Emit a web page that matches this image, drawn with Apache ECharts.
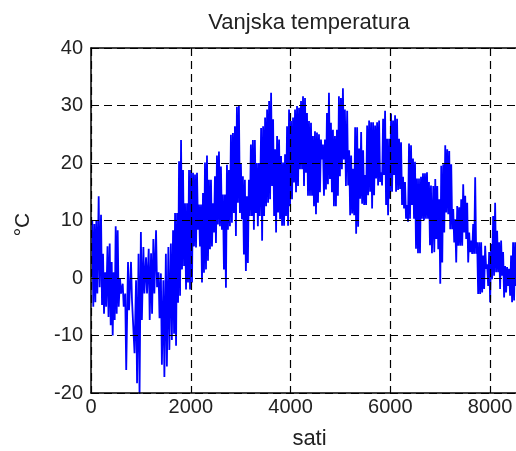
<!DOCTYPE html>
<html><head><meta charset="utf-8">
<script src="https://cdn.jsdelivr.net/npm/echarts@6/dist/echarts.min.js"></script>
<style>html,body{margin:0;padding:0;background:#fff}#c{width:516px;height:451px}</style>
</head><body><div id="c"></div>
<script>
const chartTitle = 'Vanjska temperatura';
const xName = 'sati';
const yName = '°C';
const xTicks = [0, 2000, 4000, 6000, 8000];
const yTicks = [-20, -10, 0, 10, 20, 30, 40];

// hour of year (sample position) with the upper and lower envelope
const hours = [26,67,107,154,201,241,284,331,375,415,455,495,535,582,636,686,742,802,853,903,953,1000,1050,1103,1157,1204,1250,1304,1354,1401,1451,1501,1551,1601,1645,
1685,1725,1765,1805,1845,1885,1925,1965,2005,2045,2085,2125,2165,2205,2245,2285,2325,2365,2405,2445,2485,2525,2565,2605,2645,2685,2725,2765,2805,2845,2885,2925,2965,3005,3045,3085,3125,3165,3205,3245,3285,3325,3365,
3410,3450,3490,3530,3570,3610,3650,3690,3730,3770,3810,3850,3890,3930,3970,4010,4050,4090,4130,4170,4210,4250,4290,4330,4370,4410,4450,4490,4530,4570,4610,4650,4690,4730,4770,4810,4850,4890,4930,4970,5010,5050,5090,
5135,5175,5215,5255,5295,5335,5375,5415,5455,5495,5535,5575,5615,5655,5695,5735,5775,5815,5855,5895,5935,5975,6015,6055,6095,6135,6175,6215,6255,6295,6335,6375,6415,6455,6495,6535,6575,6615,6655,6695,6735,6775,6815,
6861,6901,6941,6981,7021,7061,7101,7141,7181,7221,7261,7301,7341,7381,7421,7461,7501,7541,7581,7621,7661,7701,7741,7781,7821,7861,7901,7941,7981,8021,8061,8101,8141,8181,8221,8261,8301,8341,8381,8421,8461,8501,8560];

const tempHigh = [10,9.4,10,14.2,11,4.2,1,5.5,6,2.8,1,9,8.3,-0.1,-1,-2.7,2.8,2.8,-3.6,-0.4,4.2,8,5.4,3.6,5.1,4.3,6.8,8.3,1,0.8,-0.4,4.2,5.4,6,8.3,
11.3,11.3,20.3,24,18.8,13,13,18.8,18.8,18.3,18,18.3,12.8,12.8,14.8,20.1,21.3,17.1,17.1,13,17.7,21.3,22,19.4,14.5,14.5,19.7,18.8,24.9,25.2,26.4,29.8,29.9,20,17.7,17.1,14.2,17.1,23.2,24,24,20,20,
26.1,26.4,27.9,29.3,30.8,32.2,27.6,22.4,24.7,24.1,21.2,20.1,21.5,26.4,29.3,27.3,27.9,29.3,29.9,29.6,30.8,31.6,31.3,28.7,27.3,27,24.7,25.5,25.3,25,24.1,23.2,24.1,28.7,32.2,27,25.8,24.7,25.8,31.6,31.3,33,29.3,
29.1,22.2,21.3,19,26.2,26.2,22.5,25.4,22.2,17.9,26.5,27.4,27.1,27.1,26.5,27.1,27.4,18.4,27.7,29.1,24.2,24.2,28.6,27.4,28.3,27.7,24.2,23.6,17.6,16.7,12.7,23.4,23.1,20.8,20.2,17.3,17.3,17.6,18.2,18.2,18.4,16.7,16.1,
16,17.2,16,13.7,19.5,19.8,23.1,22.4,22.1,19.8,12,10.2,12.5,12.3,13.7,16.3,14.3,13.1,7.9,6.5,9.4,17.5,6.2,6.2,6.2,3.9,5.6,2.4,4.5,5.9,10.8,13.1,8.2,6.2,6.5,4.5,2.1,1.9,1.6,3.9,6.2,6.2,6];

const tempLow = [-5,-4.2,-2.7,-1.6,-4.7,-6.2,-5,-6.8,-8.2,-10,-7.3,-6.2,-5,-2.7,-5,-16,-5.6,-3.9,-13.1,-18.3,-20.3,-7.3,-2.7,-2.7,-7.3,-6.2,-2.7,-1.6,-7,-15.1,-17.2,-15.4,-12.5,-10.8,-9.7,
-11.8,-4.3,-3.1,1.5,2.1,-2,-0.8,-2,-0.8,5.5,5.3,8.4,5.5,-0.8,0.9,1.5,3,5,5.5,7.9,6.1,9.3,9,8.4,1.5,-1.7,8.4,9,9.6,11.3,7.3,13.1,11.3,10.2,4.1,1.2,2.6,10.8,10.8,8.4,11.3,9,10.8,
6.5,10.8,12.5,13.1,13.7,16,10.8,7.9,11.4,10.2,9.1,9.1,10.8,9.1,12.5,13.7,16.6,14.9,16,18.9,18.9,16,18.3,14.3,14.3,14.3,12.5,11.1,13.1,14.9,20.6,14.3,15.4,16.3,17.2,14.9,12.5,12.5,14.3,17.7,18.9,20.6,16,
16.1,10.9,11.2,10.9,7.7,8.9,13.8,12.9,12.7,12.7,14.4,15,12.1,14.4,17.3,16.1,16.7,16.1,17.9,12.7,10.9,13.8,15,17.9,15,15.3,15.5,12.7,12.1,10.3,9.8,10.3,12.7,10.3,5.1,4.3,4.3,10.3,10,10.3,10.3,5.7,4.3,
4.5,6.8,5,-1,2.7,7.9,11.4,11.1,8.5,8.5,6.2,2.7,5.6,5.6,5.6,7.9,6.8,2.7,4.5,4.2,4.2,4.2,-2.8,-2.8,-2.5,-1.9,1.6,-1.4,-4.2,-0.2,0.4,1,1,-1.9,0.4,-3.4,-2.5,-1.4,-3.1,-4.2,-3.9,-1.4,-4.5];

const lineData = [];
for (let i = 0; i < hours.length; i++) {
  lineData.push([hours[i], tempHigh[i]]);
  lineData.push([hours[i] + 20, tempLow[i]]);
}

const FONT = "'Liberation Sans', Arial, Helvetica, sans-serif";
const TXT = '#222';
const chart = echarts.init(document.getElementById('c'), null, {renderer: 'canvas', width: 516, height: 451});
const dash = {color: '#000', type: [8, 5], width: 1.2};
chart.setOption({
  animation: false,
  backgroundColor: '#ffffff',
  title: {
    text: chartTitle, left: 309, top: 12, textAlign: 'center', padding: 0,
    textStyle: {fontFamily: FONT, fontSize: 22, fontWeight: 'normal', color: TXT}
  },
  grid: {left: 91, right: -12, top: 48, bottom: 58, containLabel: false, outerBoundsMode: 'none'},
  xAxis: [{
    type: 'value', min: 0, max: 8760, interval: 2000, position: 'bottom', z: 5,
    name: xName, nameLocation: 'middle', nameGap: 35,
    nameTextStyle: {fontFamily: FONT, fontSize: 22, color: TXT},
    axisLine: {show: true, onZero: false, lineStyle: {color: '#000', width: 1.5}},
    axisTick: {show: true, inside: true, length: 5, lineStyle: {color: '#000', width: 1}},
    axisLabel: {margin: 4, fontFamily: FONT, fontSize: 20, color: TXT, showMaxLabel: false,
      formatter: v => xTicks.includes(v) ? String(v) : ''},
    splitLine: {show: true, lineStyle: dash}
  }, {
    type: 'value', min: 0, max: 8760, interval: 2000, position: 'top', z: 5,
    axisLine: {show: true, onZero: false, lineStyle: {color: '#000', width: 1.5}},
    axisTick: {show: true, inside: true, length: 5, lineStyle: {color: '#000', width: 1}},
    axisLabel: {show: false}, splitLine: {show: false}
  }],
  yAxis: [{
    type: 'value', min: -20, max: 40, interval: 10, position: 'left', z: 5,
    name: yName, nameLocation: 'middle', nameGap: 57, nameRotate: 90,
    nameTextStyle: {fontFamily: FONT, fontSize: 21, color: TXT, padding: [0, 8, 0, 0]},
    axisLine: {show: true, onZero: false, lineStyle: {color: '#000', width: 1.5}},
    axisTick: {show: true, inside: true, length: 5, lineStyle: {color: '#000', width: 1}},
    axisLabel: {margin: 8, fontFamily: FONT, fontSize: 20, color: TXT,
      formatter: v => yTicks.includes(v) ? String(v) : ''},
    splitLine: {show: true, lineStyle: dash}
  }],
  series: [{
    type: 'line', data: lineData, xAxisIndex: 0, yAxisIndex: 0,
    showSymbol: false, symbol: 'none', sampling: null, clip: true, z: 2,
    lineStyle: {color: '#0000ff', width: 1.8}
  }]
});
</script>
</body></html>
